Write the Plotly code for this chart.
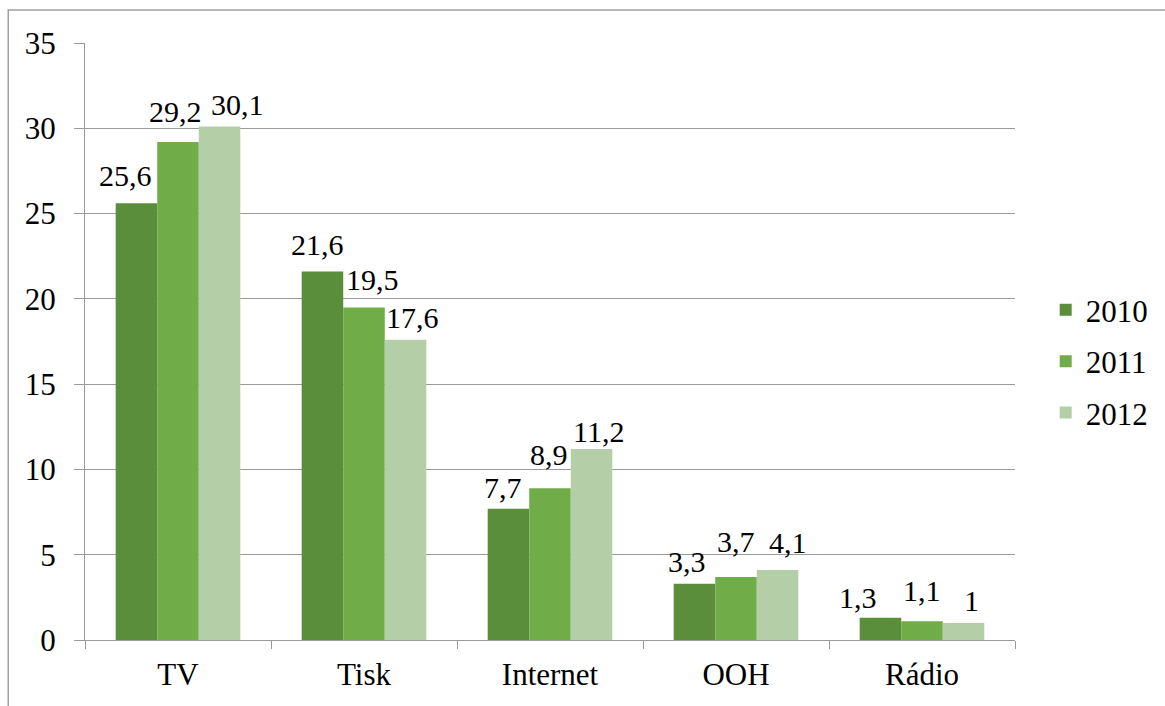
import plotly.graph_objects as go

categories = ["TV", "Tisk", "Internet", "OOH", "Rádio"]
years = ["2010", "2011", "2012"]
v2010 = [25.6, 21.6, 7.7, 3.3, 1.3]
v2011 = [29.2, 19.5, 8.9, 3.7, 1.1]
v2012 = [30.1, 17.6, 11.2, 4.1, 1.0]
series = [v2010, v2011, v2012]
colors = ["#5b8e3a", "#70ac47", "#b4cfa7"]

# label placement nudges (pixels), mimicking the manually placed labels
label_dx = [[-11, -5, -5.5, -8, -23],
            [-2.5, 8.5, -1, 0, 0],
            [17.5, 6.5, 6.5, 10.5, 7.5]]
label_gap = [[17, 16, 10, 11, 9],
             [19, 17, 23, 24, 20],
             [11, 11, 6, 17, 11]]

FONT = '"Liberation Serif", "Times New Roman", Times, serif'
BAR_PX = 41.5
DESC = 7.5

fig = go.Figure()
annotations = []
for i, (name, vals, col) in enumerate(zip(years, series, colors)):
    fig.add_trace(go.Bar(
        x=categories, y=vals, name=name, legendgroup=name,
        marker=dict(color=col, line=dict(width=0)),
    ))
    for j, (c, v) in enumerate(zip(categories, vals)):
        annotations.append(dict(
            x=c, y=v, xref="x", yref="y", showarrow=False,
            text=("%g" % v).replace(".", ","),
            font=dict(family=FONT, size=30, color="black"),
            xanchor="center", yanchor="bottom",
            xshift=(i - 1) * BAR_PX + label_dx[i][j],
            yshift=label_gap[i][j] - DESC,
        ))

fig.update_layout(
    width=1165, height=706,
    margin=dict(l=85, r=147, t=43, b=66),
    paper_bgcolor="white", plot_bgcolor="white",
    barmode="group", bargap=0.33, bargroupgap=0,
    font=dict(family=FONT, size=31, color="black"),
    showlegend=True,
    legend=dict(x=1.033, y=0.467, xanchor="left", yanchor="middle",
                font=dict(family=FONT, size=31), traceorder="grouped",
                tracegroupgap=8, itemwidth=30, bgcolor="rgba(0,0,0,0)"),
    xaxis=dict(type="category", tickson="boundaries", ticks="outside", ticklen=8,
               tickcolor="#9a9a9a", showline=True, linecolor="#9a9a9a", linewidth=1,
               showgrid=False, ticklabelstandoff=7,
               tickfont=dict(family=FONT, size=31)),
    yaxis=dict(range=[0, 35], dtick=5, ticks="outside", ticklen=10, tickcolor="#9a9a9a",
               showline=True, linecolor="#9a9a9a", linewidth=1,
               showgrid=True, gridcolor="#9a9a9a", gridwidth=1,
               zeroline=False, ticklabelstandoff=12,
               tickfont=dict(family=FONT, size=31)),
    annotations=annotations,
    shapes=[dict(type="rect", xref="paper", yref="paper",
                 x0=(8 - 85) / 933, x1=1.3, y0=-0.3, y1=(640 - 10) / 597,
                 line=dict(color="#a0a0a0", width=1.5), layer="below")],
)

fig.write_html("out.html")
